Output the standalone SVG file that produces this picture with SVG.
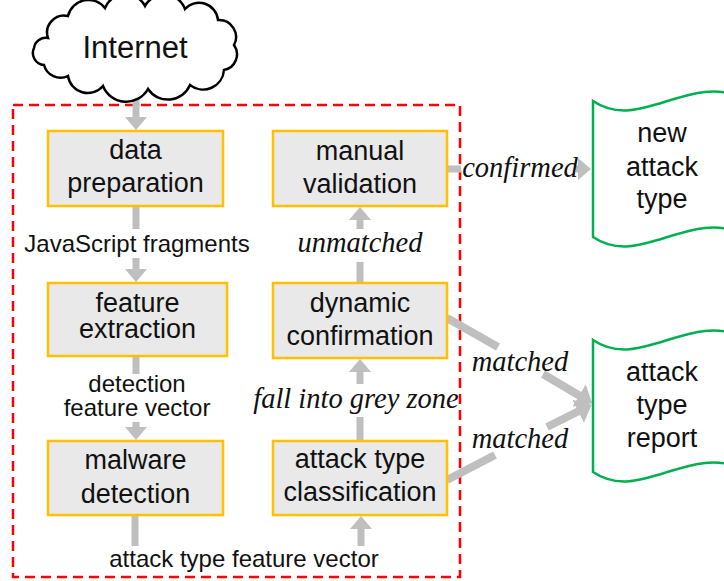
<svg xmlns="http://www.w3.org/2000/svg" width="724" height="581" viewBox="0 0 724 581">
<style>
.box{fill:#e9e9e9;stroke:#ffc000;stroke-width:2.5}
.doc{fill:#fff;stroke:#00b050;stroke-width:2.5}
.t{font-family:"Liberation Sans",Arial,sans-serif;font-size:27px;fill:#111;text-anchor:middle}
.l{font-family:"Liberation Sans",Arial,sans-serif;font-size:24px;fill:#111;text-anchor:middle}
.i{font-family:"Liberation Serif","Times New Roman",serif;font-style:italic;font-size:28.5px;fill:#111;text-anchor:middle}
.c{fill:none;stroke:#bfbfbf;stroke-width:7}
.ca{fill:none;stroke:#bfbfbf;stroke-width:7;marker-end:url(#ah)}
.cd{fill:none;stroke:#bfbfbf;stroke-width:8}
.cda{fill:none;stroke:#bfbfbf;stroke-width:8;marker-end:url(#ahb)}
</style>
<defs>
<marker id="ah" markerUnits="userSpaceOnUse" viewBox="0 -12 14 24" markerWidth="14" markerHeight="24" refX="1" refY="0" orient="auto">
<path d="M0,-11 L13,0 L0,11 Z" fill="#bfbfbf"/>
</marker>
<marker id="ahb" markerUnits="userSpaceOnUse" viewBox="0 -14 16 28" markerWidth="16" markerHeight="28" refX="1" refY="0" orient="auto">
<path d="M0,-13 L15,0 L0,13 Z" fill="#bfbfbf"/>
</marker>
</defs>

<rect id="boundary" x="13" y="105" width="447" height="472" fill="none" stroke="#ff0000" stroke-width="2.5" stroke-dasharray="10 6"/>

<g id="connectors">
<path class="ca" d="M136,88 L136,118"/>
<path class="c" d="M136,206 L136,229"/>
<path class="ca" d="M136,258 L136,270"/>
<path class="c" d="M136,356 L136,374"/>
<path class="ca" d="M136,422 L136,428"/>
<path class="c" d="M135,515 L135,546"/>
<path class="ca" d="M361,546 L361,528"/>
<path class="c" d="M360,441 L360,417"/>
<path class="ca" d="M360,384 L360,371"/>
<path class="c" d="M360,283 L360,262"/>
<path class="ca" d="M360,229 L360,219"/>
<path class="c" d="M447,169 L461,169"/>
<path class="ca" d="M576,169 L579,169"/>
<path class="cd" d="M447,318 L498,347"/>
<path class="cda" d="M543,374 L580,396"/>
<path class="cd" d="M447,480 L495,455"/>
<path class="cda" d="M547,427 L579,411"/>
</g>

<g id="internet">
<path d="M48,38 A17,17 0 0 1 68,16 A21,21 0 0 1 105,8 A22,22 0 0 1 145,6 A22,22 0 0 1 185,9 A19,19 0 0 1 218,20 A17,17 0 0 1 234,45 A16,16 0 0 1 224,70 A21,21 0 0 1 190,85 A24,24 0 0 1 148,89 A25,25 0 0 1 103,86 A20,20 0 0 1 68,76 A17,17 0 0 1 44,65 A12,12 0 0 1 34,48 A12,12 0 0 1 48,38 Z" fill="#fff" stroke="#000" stroke-width="2.5"/>
<text class="t" x="135" y="58" style="font-size:31px">Internet</text>
</g>

<g id="data-preparation">
<rect class="box" x="48" y="131" width="175" height="75"/>
<text class="t" x="135.5" y="159">data</text>
<text class="t" x="135.5" y="192">preparation</text>
</g>
<text class="l" x="137" y="252">JavaScript fragments</text>

<g id="feature-extraction">
<rect class="box" x="48" y="283" width="179" height="73"/>
<text class="t" x="137.5" y="312">feature</text>
<text class="t" x="137.5" y="338">extraction</text>
</g>
<text class="l" x="137" y="392">detection</text>
<text class="l" x="137" y="416">feature vector</text>

<g id="malware-detection">
<rect class="box" x="48" y="441" width="175" height="74"/>
<text class="t" x="135.5" y="469">malware</text>
<text class="t" x="135.5" y="503">detection</text>
</g>
<text class="l" x="244" y="567">attack type feature vector</text>

<g id="attack-type-classification">
<rect class="box" x="273" y="441" width="174" height="74"/>
<text class="t" x="360" y="468">attack type</text>
<text class="t" x="360" y="501">classification</text>
</g>
<text class="i" x="356" y="408">fall into grey zone</text>

<g id="dynamic-confirmation">
<rect class="box" x="273" y="283" width="174" height="75"/>
<text class="t" x="360" y="312">dynamic</text>
<text class="t" x="360" y="345">confirmation</text>
</g>
<text class="i" x="360" y="252">unmatched</text>

<g id="manual-validation">
<rect class="box" x="273" y="131" width="174" height="75"/>
<text class="t" x="360" y="160">manual</text>
<text class="t" x="360" y="193">validation</text>
</g>
<text class="i" x="520" y="177">confirmed</text>
<text class="i" x="520" y="371">matched</text>
<text class="i" x="520" y="448">matched</text>

<g id="new-attack-type">
<path class="doc" d="M593,101 C640,133 690,71 745,99 L745,235 C690,207 640,269 593,237 Z"/>
<text class="t" x="662" y="142">new</text>
<text class="t" x="662" y="176">attack</text>
<text class="t" x="662" y="208">type</text>
</g>

<g id="attack-type-report">
<path class="doc" d="M593,340 C640,372 690,310 745,338 L745,470 C690,442 640,504 593,472 Z"/>
<text class="t" x="662" y="381">attack</text>
<text class="t" x="662" y="414">type</text>
<text class="t" x="662" y="447">report</text>
</g>
</svg>
